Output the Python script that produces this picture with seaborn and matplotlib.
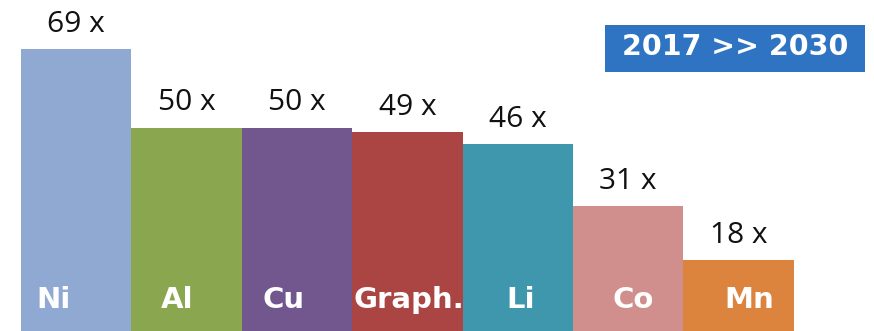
import numpy as np
import pandas as pd
import matplotlib
matplotlib.use("Agg")
import matplotlib.pyplot as plt
import seaborn as sns
from matplotlib.patches import Rectangle

# chart data
metals = ["Ni", "Al", "Cu", "Graph.", "Li", "Co", "Mn"]
growth = [69, 50, 50, 49, 46, 31, 18]
value_labels = ["69 x", "50 x", "50 x", "49 x", "46 x", "31 x", "18 x"]
colors = ["#8FA9D2", "#8AA64E", "#72578F", "#AB4543", "#3F97AE", "#D08E8D", "#DC843D"]
period = "2017 >> 2030"

# where the white names sit relative to bar centre (data units)
name_shift = [-0.36, -0.23, -0.31, -0.49, -0.10, -0.14, -0.13]

df = pd.DataFrame({"metal": metals, "growth": growth})

sns.set_style("white")
fig = plt.figure(figsize=(8.74, 3.31), dpi=100)
ax = fig.add_axes([0, 0, 1, 1])

sns.barplot(data=df, x="metal", y="growth", hue="metal", palette=colors,
            width=1.0, dodge=False, legend=False, saturation=1,
            linewidth=0, edgecolor="none", ax=ax)

ax.set_xlim(-0.69, 7.226)
ax.set_ylim(0.85, 80.9)
ax.axis("off")

# value labels above the bars
for i, (v, lab) in enumerate(zip(growth, value_labels)):
    ax.annotate(lab, (i, v), xytext=(0, 12.5), textcoords="offset points",
                ha="center", va="baseline", fontsize=21.5,
                family="Open Sans", color="#111111")

# metal names inside the bars
for i, name in enumerate(metals):
    ax.text(i + name_shift[i], 6.5, name, ha="left", va="baseline",
            fontsize=21, fontweight="bold", family="DejaVu Sans", color="white")

# period box
fig.patches.append(Rectangle((605 / 874, 1 - 72 / 331), 260 / 874, 47 / 331,
                             transform=fig.transFigure, facecolor="#2E74C2",
                             edgecolor="none"))
fig.text(735 / 874, 1 - 47 / 331, period, ha="center", va="center",
         fontsize=20.5, fontweight="bold", family="DejaVu Sans", color="white")

fig.savefig("out.png", dpi=100)
